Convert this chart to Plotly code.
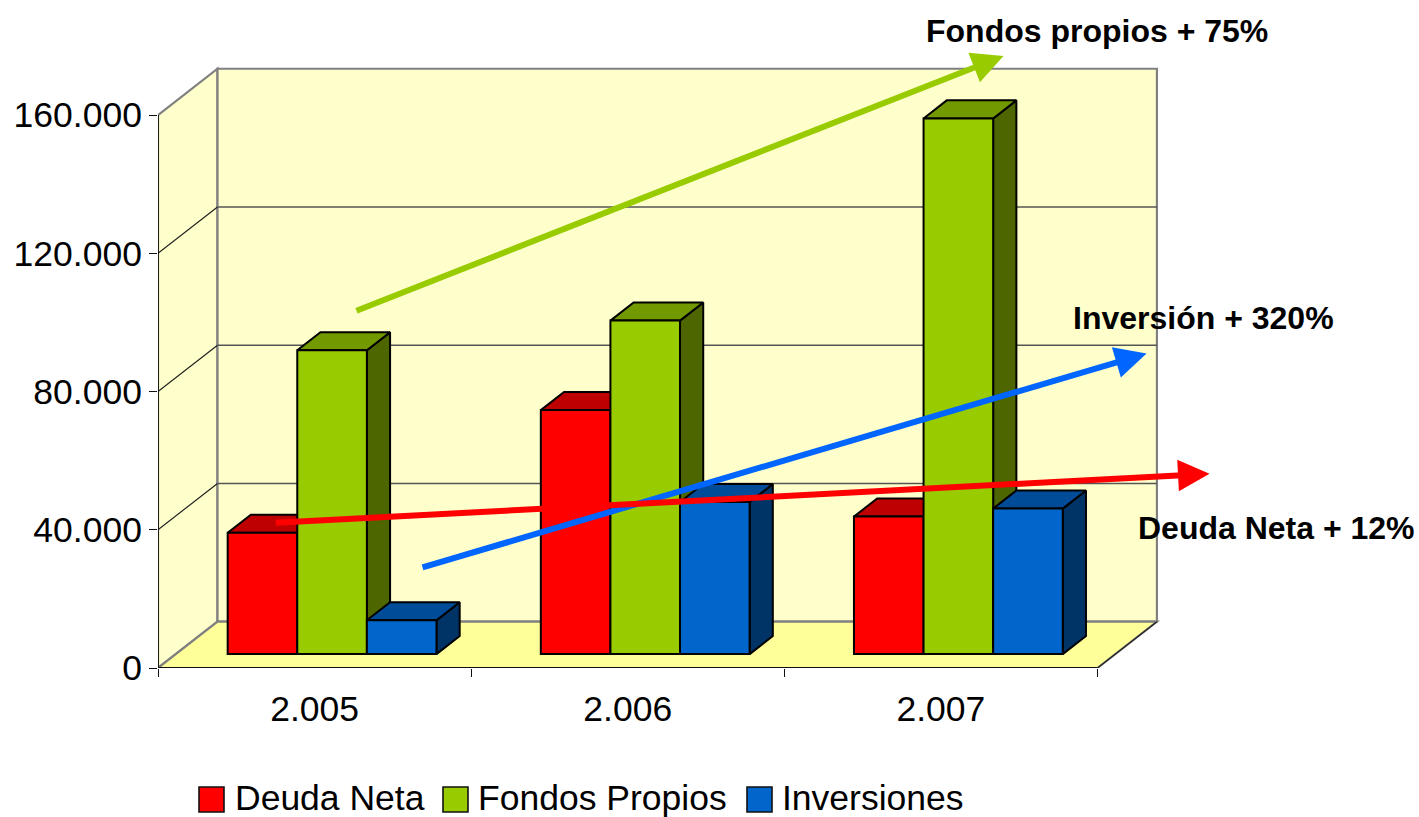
import plotly.graph_objects as go

# ---------- data ----------
years = ["2.005", "2.006", "2.007"]
deuda_neta = [35100, 70600, 39800]
fondos_propios = [87900, 96500, 155000]
inversiones = [9800, 44000, 42100]
y_ticks = [0, 40000, 80000, 120000, 160000]
y_tick_labels = ["0", "40.000", "80.000", "120.000", "160.000"]
series_names = ["Deuda Neta", "Fondos Propios", "Inversiones"]
front_colors = ["#FF0000", "#99CC00", "#0066CC"]
top_colors = ["#BF0000", "#739900", "#004C99"]
side_colors = ["#7F0000", "#4D6600", "#003366"]

arrow_labels = ["Fondos propios + 75%", "Inversión + 320%", "Deuda Neta + 12%"]
arrow_colors = ["#99CC00", "#0066FF", "#FF0000"]
arrow_tail_x = [0.629, 0.840, 0.371]
arrow_tail_y = [103200, 29000, 42000]
arrow_tip_x = [2.700, 3.157, 3.358]
arrow_tip_y = [177100, 91000, 56200]

# ---------- geometry of the fake 3D projection ----------
W, H = 1419, 817
ML, MB, MT = 158, 149, 39
X_MAX, Y_MAX = 3.5, 182000
PLOT_W = 1096
PLOT_H = H - MB - MT
MR = W - ML - PLOT_W
DX_DEPTH = 59.5 / (PLOT_W / X_MAX)   # x units for the full floor depth
DY_DEPTH = 46.3 / (PLOT_H / Y_MAX)   # y units for the full floor depth
BAR_W = 69.6 / (PLOT_W / X_MAX)
GROUP_START = 0.2225
D_FRONT, D_BACK = 0.30, 0.69
N_CAT = len(years)
Y_TOP = y_ticks[-1]
OUTLINE = 2


def proj(x, v, d):
    return x + DX_DEPTH * d, v + DY_DEPTH * d


def poly_path(pts):
    return "M" + "L".join(f"{x},{y}" for x, y in pts) + "Z"


def paper_x(px):
    return (px - ML) / PLOT_W


def paper_y(py):
    return (H - MB - py) / PLOT_H


shapes = []
GRAY = "#808080"
# walls and floor
shapes.append(dict(type="path", layer="below", line=dict(color=GRAY, width=2.2), fillcolor="#FFFFCC",
                   path=poly_path([proj(0, 0, 0), proj(0, Y_TOP, 0), proj(0, Y_TOP, 1), proj(0, 0, 1)])))
shapes.append(dict(type="path", layer="below", line=dict(color=GRAY, width=2.2), fillcolor="#FFFFCC",
                   path=poly_path([proj(0, 0, 1), proj(0, Y_TOP, 1), proj(N_CAT, Y_TOP, 1), proj(N_CAT, 0, 1)])))
shapes.append(dict(type="path", layer="below", line=dict(color=GRAY, width=2.2), fillcolor="#FFFF99",
                   path=poly_path([proj(0, 0, 0), proj(0, 0, 1), proj(N_CAT, 0, 1), proj(N_CAT, 0, 0)])))


def seg(a, b, color, width):
    shapes.append(dict(type="line", layer="below", x0=a[0], y0=a[1], x1=b[0], y1=b[1],
                       line=dict(color=color, width=width)))


# grid lines
for t in y_ticks[1:-1]:
    seg(proj(0, t, 0), proj(0, t, 1), "#222222", 1.2)
    seg(proj(0, t, 1), proj(N_CAT, t, 1), "#555555", 1.4)
# black axis lines
seg(proj(0, 0, 0), proj(0, Y_TOP, 0), "#111111", 1.8)
seg(proj(0, 0, 0), proj(N_CAT, 0, 0), "#111111", 1.8)
seg(proj(N_CAT, 0, 0), proj(N_CAT, 0, 1), "#222222", 1.2)

traces = []
all_values = [deuda_neta, fondos_propios, inversiones]
base_value = DY_DEPTH * D_FRONT
for j, (name, vals) in enumerate(zip(series_names, all_values)):
    xl = [i + GROUP_START + BAR_W * j for i in range(N_CAT)]
    top_x, top_y, side_x, side_y = [], [], [], []
    for x0, v in zip(xl, vals):
        x1 = x0 + BAR_W
        # the bar's own front plane is already shifted by GROUP_START
        shift = DX_DEPTH * (D_BACK - D_FRONT)
        lift = DY_DEPTH * (D_BACK - D_FRONT)
        vt = base_value + v
        top = [(x0, vt), (x1, vt), (x1 + shift, vt + lift), (x0 + shift, vt + lift), (x0, vt)]
        side = [(x1, base_value), (x1, vt), (x1 + shift, vt + lift), (x1 + shift, base_value + lift), (x1, base_value)]
        top_x += [p[0] for p in top] + [None]
        top_y += [p[1] for p in top] + [None]
        side_x += [p[0] for p in side] + [None]
        side_y += [p[1] for p in side] + [None]
    z = 1 + 2 * j
    for xs, ys, col in ((side_x, side_y, side_colors[j]), (top_x, top_y, top_colors[j])):
        traces.append(go.Scatter(x=xs, y=ys, mode="lines", fill="toself", fillcolor=col,
                                 line=dict(color="black", width=OUTLINE), hoverinfo="skip",
                                 showlegend=False, zorder=z))
    traces.append(go.Bar(x=[x + BAR_W / 2 for x in xl], y=vals, base=[base_value] * N_CAT, width=BAR_W,
                         name=name, marker=dict(color=front_colors[j], line=dict(color="black", width=OUTLINE)),
                         showlegend=False, zorder=z + 1))

fig = go.Figure(traces)

annotations = []
# trend arrows
for c, tx, ty, hx, hy in zip(arrow_colors, arrow_tail_x, arrow_tail_y, arrow_tip_x, arrow_tip_y):
    annotations.append(dict(x=hx, y=hy, ax=tx, ay=ty, xref="x", yref="y", axref="x", ayref="y",
                            text="", showarrow=True, arrowhead=2, arrowsize=1.05, arrowwidth=6,
                            arrowcolor=c, standoff=0))
# arrow captions
label_pos = [(926, 31), (1073, 318), (1138, 528)]
for text, (px, py) in zip(arrow_labels, label_pos):
    annotations.append(dict(x=paper_x(px), y=paper_y(py), xref="paper", yref="paper", text=f"<b>{text}</b>",
                            showarrow=False, xanchor="left", yanchor="middle", borderpad=0, borderwidth=0,
                            font=dict(family="Liberation Sans", size=32, color="black")))
# hand-built legend with large swatches
swatch_px = [199, 443, 747]
text_px = [235, 478, 782]
for name, col, sx, tx in zip(series_names, front_colors, swatch_px, text_px):
    shapes.append(dict(type="rect", xref="paper", yref="paper", x0=paper_x(sx), x1=paper_x(sx + 25),
                       y0=paper_y(812), y1=paper_y(787), fillcolor=col, line=dict(color="#111111", width=1.6)))
    annotations.append(dict(x=paper_x(tx), y=paper_y(798), xref="paper", yref="paper", text=name,
                            showarrow=False, xanchor="left", yanchor="middle", borderpad=0, borderwidth=0,
                            font=dict(family="Liberation Sans", size=35.5, color="black")))

fig.update_layout(
    width=W, height=H, autosize=False, margin=dict(l=ML, r=MR, t=MT, b=MB, pad=0, autoexpand=False),
    paper_bgcolor="white", plot_bgcolor="white", barmode="overlay",
    font=dict(family="Liberation Sans", size=35.5, color="black"),
    shapes=shapes, annotations=annotations, showlegend=False,
    xaxis=dict(range=[0, X_MAX], showgrid=False, zeroline=False, showline=False, automargin=False,
               tickmode="array", tickvals=[i + 0.5 for i in range(N_CAT)], ticktext=years,
               ticks="", ticklabelstandoff=16,
               minor=dict(tickmode="array", tickvals=list(range(N_CAT + 1)), ticks="outside",
                          ticklen=8, tickwidth=1.2, tickcolor="#111111", showgrid=False)),
    yaxis=dict(range=[0, Y_MAX], showgrid=False, zeroline=False, showline=False, automargin=False,
               tickmode="array", tickvals=y_ticks, ticktext=y_tick_labels,
               ticks="outside", ticklen=8, tickwidth=1.2, tickcolor="#111111", ticklabelstandoff=0),
)
fig.write_html("out.html", config={"displayModeBar": False},
               post_script="document.body.style.margin='0';document.documentElement.style.overflow='hidden';")
